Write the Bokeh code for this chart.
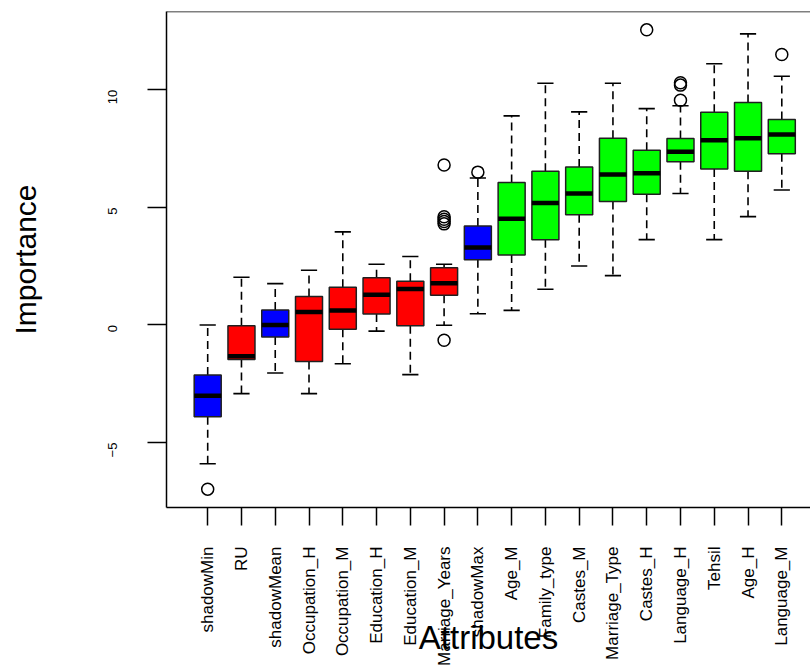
import math
from bokeh.plotting import figure
from bokeh.models import Range1d, FixedTicker, Span, ColumnDataSource
from bokeh.embed import file_html
from bokeh.resources import INLINE

# ---- data ----
attributes = ["shadowMin", "RU", "shadowMean", "Occupation_H", "Occupation_M",
              "Education_H", "Education_M", "Marriage_Years", "shadowMax", "Age_M",
              "Family_type", "Castes_M", "Marriage_Type", "Castes_H", "Language_H",
              "Tehsil", "Age_H", "Language_M"]
status = ["shadow", "rejected", "shadow", "rejected", "rejected",
          "rejected", "rejected", "rejected", "shadow", "confirmed",
          "confirmed", "confirmed", "confirmed", "confirmed", "confirmed",
          "confirmed", "confirmed", "confirmed"]
lower_whisker = [-5.9, -2.92, -2.04, -2.92, -1.65, -0.26, -2.11, -0.01, 0.48, 0.62,
                 1.52, 2.51, 2.10, 3.63, 5.59, 3.63, 4.61, 5.74]
q1 = [-3.90, -1.47, -0.51, -1.55, -0.18, 0.47, -0.03, 1.26, 2.77, 2.98,
      3.63, 4.69, 5.25, 5.56, 6.94, 6.63, 6.54, 7.28]
median = [-3.01, -1.33, 0.00, 0.55, 0.62, 1.29, 1.53, 1.77, 3.29, 4.52,
          5.19, 5.59, 6.40, 6.45, 7.37, 7.86, 7.94, 8.10]
q3 = [-2.13, -0.03, 0.64, 1.21, 1.60, 2.01, 1.86, 2.43, 4.21, 6.06,
      6.54, 6.72, 7.94, 7.43, 7.93, 9.05, 9.46, 8.74]
upper_whisker = [0.00, 2.03, 1.76, 2.33, 3.96, 2.58, 2.91, 2.58, 6.25, 8.89,
                 10.28, 9.06, 10.28, 9.20, 9.32, 11.11, 12.38, 10.58]
outlier_attr = ["shadowMin", "Marriage_Years", "Marriage_Years", "Marriage_Years",
                "Marriage_Years", "Marriage_Years", "Marriage_Years", "shadowMax",
                "Castes_H", "Language_H", "Language_H", "Language_H", "Language_M"]
outlier_val = [-6.98, 6.80, 4.30, 4.40, 4.50, 4.60, -0.65, 6.50,
               12.55, 10.20, 10.30, 9.56, 11.50]
y_ticks = [-5, 0, 5, 10]

status_colors = {"shadow": "#0000FF", "rejected": "#FF0000", "confirmed": "#00FF00"}

# ---- build ----
pos = list(range(1, len(attributes) + 1))
idx = {a: i + 1 for i, a in enumerate(attributes)}
box_w = 0.8
cap_hw = 0.24

src = ColumnDataSource(dict(
    x=pos, q1=q1, q3=q3, med=median, lo=lower_whisker, hi=upper_whisker,
    color=[status_colors[s] for s in status],
    bl=[p - box_w / 2 for p in pos], br=[p + box_w / 2 for p in pos],
    cl=[p - cap_hw for p in pos], cr=[p + cap_hw for p in pos],
))

p = figure(width=810, height=666, output_backend="svg", toolbar_location=None,
           x_range=Range1d(-0.22, 18.85), y_range=Range1d(-7.76, 13.33),
           min_border_left=166, min_border_right=0, min_border_top=11,
           min_border_bottom=159)
p.outline_line_color = None
p.xgrid.visible = False
p.ygrid.visible = False
p.background_fill_color = "white"
p.border_fill_color = "white"

# whiskers (dashed)
p.segment(x0="x", y0="q3", x1="x", y1="hi", source=src, line_color="black",
          line_width=1.6, line_dash="8 5")
p.segment(x0="x", y0="q1", x1="x", y1="lo", source=src, line_color="black",
          line_width=1.6, line_dash="8 5")
# caps
p.segment(x0="cl", y0="hi", x1="cr", y1="hi", source=src, line_color="black", line_width=1.6)
p.segment(x0="cl", y0="lo", x1="cr", y1="lo", source=src, line_color="black", line_width=1.6)
# boxes
p.vbar(x="x", width=box_w, top="q3", bottom="q1", source=src, fill_color="color",
       line_color="#202020", line_width=1.5)
# medians
p.segment(x0="bl", y0="med", x1="br", y1="med", source=src, line_color="black", line_width=4.5)
# outliers
p.scatter(x=[idx[a] for a in outlier_attr], y=outlier_val, marker="circle", size=12,
          fill_color=None, line_color="black", line_width=1.5)

# top border of the box
p.add_layout(Span(location=13.33, dimension="width", line_color="black", line_width=1.5))

font = "Liberation Sans"
# x axis
xa = p.xaxis[0]
xa.ticker = FixedTicker(ticks=pos)
xa.major_label_overrides = {i + 1: a for i, a in enumerate(attributes)}
xa.major_label_orientation = math.pi / 2
xa.major_label_text_font = font
xa.major_label_text_font_size = "17px"
xa.major_label_text_color = "black"
xa.major_label_standoff = 21
xa.major_tick_out = 18
xa.major_tick_in = 0
xa.minor_tick_out = 0
xa.minor_tick_in = 0
xa.major_tick_line_width = 1.5
xa.axis_line_width = 1.5
xa.axis_line_color = "black"
xa.major_tick_line_color = "black"
xa.axis_label = "Attributes"
xa.axis_label_text_font = font
xa.axis_label_text_font_size = "33px"
xa.axis_label_text_font_style = "normal"
xa.axis_label_text_color = "black"
xa.axis_label_standoff = -50

# y axis
ya = p.yaxis[0]
ya.ticker = FixedTicker(ticks=y_ticks)
ya.major_label_orientation = math.pi / 2
ya.major_label_text_font = font
ya.major_label_text_font_size = "13px"
ya.major_label_text_color = "black"
ya.major_label_standoff = 35
ya.major_tick_out = 19
ya.major_tick_in = 0
ya.minor_tick_out = 0
ya.minor_tick_in = 0
ya.major_tick_line_width = 1.5
ya.axis_line_width = 1.5
ya.axis_line_color = "black"
ya.major_tick_line_color = "black"
ya.axis_label = "Importance"
ya.axis_label_text_font = font
ya.axis_label_text_font_size = "30px"
ya.axis_label_text_font_style = "normal"
ya.axis_label_text_color = "black"
ya.axis_label_standoff = 59

open("out.html", "w").write(file_html(p, INLINE))
